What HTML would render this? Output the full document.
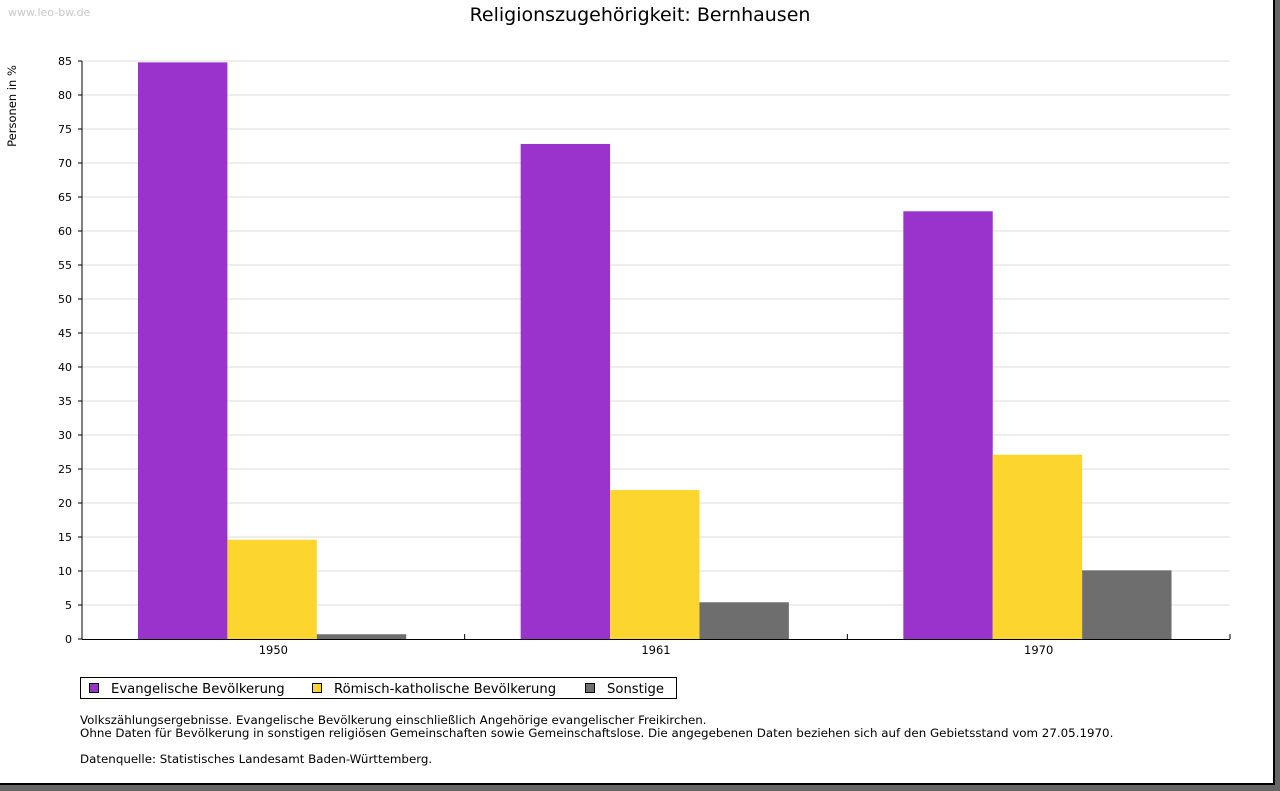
<!DOCTYPE html>
<html><head><meta charset="utf-8"><style>
body{margin:0;width:1280px;height:791px;background:#666;overflow:hidden;font-family:"DejaVu Sans","Liberation Sans",sans-serif}
#frame{position:absolute;left:0;top:0;width:1273px;height:783px;background:#fff;border-right:2px solid #000;border-bottom:2px solid #000}
svg text{font-family:"DejaVu Sans","Liberation Sans",sans-serif}
</style></head><body>
<div id="frame">
<svg id="chart" width="1275" height="785" style="position:absolute;left:0;top:0"></svg>
</div>
<script>
const categories=["1950","1961","1970"];
const seriesNames=["Evangelische Bevölkerung","Römisch-katholische Bevölkerung","Sonstige"];
const evangelisch=[84.8,72.8,62.9];
const katholisch=[14.6,21.9,27.1];
const sonstige=[0.7,5.4,10.1];
const yTicks=[0,5,10,15,20,25,30,35,40,45,50,55,60,65,70,75,80,85];
const colors=["#9933cc","#fcd62f","#6e6e6e"];
const series=[evangelisch,katholisch,sonstige];
const NS="http://www.w3.org/2000/svg";
const svg=document.getElementById('chart');
function mk(t,a,txt){const e=document.createElementNS(NS,t);for(const k in a)e.setAttribute(k,a[k]);if(txt!=null)e.textContent=txt;svg.appendChild(e);return e;}
const x0=82,x1=1230,y0=639,yTop=61,yMax=85;
const y=v=>y0-(v/yMax)*(y0-yTop);
const gw=(x1-x0)/categories.length,pad=56,bw=89.4;
let e;
e=mk('text',{x:8,y:16,'font-size':11,fill:'#c8c8c8'},'www.leo-bw.de');

e=mk('text',{x:640,y:21,'font-size':19,'text-anchor':'middle',fill:'#000'},'Religionszugehörigkeit: Bernhausen');

e=mk('text',{x:0,y:0,'font-size':11.5,'text-anchor':'middle',transform:'translate(16,106) rotate(-90)'},'Personen in %');

yTicks.forEach(t=>{
 if(t>0){e=mk('line',{x1:x0,x2:x1,y1:y(t),y2:y(t),stroke:'#dcdcdc','stroke-width':1});
 }
 e=mk('line',{x1:x0-4,x2:x0,y1:y(t),y2:y(t),stroke:'#000'});
 
 e=mk('text',{x:x0-10,y:y(t)+4,'font-size':11,'text-anchor':'end'},t);
 
});
categories.forEach((c,i)=>{
 const gx=x0+i*gw;
 series.forEach((s,j)=>{
  e=mk('rect',{x:gx+pad+j*bw,y:y(s[i]),width:bw,height:y0-y(s[i]),fill:colors[j]});
  
 });
 e=mk('text',{x:gx+gw/2,y:y0+15,'font-size':11.5,'text-anchor':'middle'},c);
 
 e=mk('line',{x1:gx+gw,x2:gx+gw,y1:y0,y2:y0-5,stroke:'#000'});
 
});
e=mk('line',{x1:x0,x2:x0,y1:yTop,y2:y0,stroke:'#000'});

e=mk('line',{x1:x0,x2:x1,y1:y0+0.5,y2:y0+0.5,stroke:'#000'});

e=mk('rect',{x:80.5,y:677.5,width:596,height:21,fill:'#fff',stroke:'#000'});

const lx=[89,312,585];
seriesNames.forEach((n,j)=>{
 e=mk('rect',{x:lx[j]+0.5,y:683.5,width:9,height:9,fill:colors[j],stroke:'#000'});
 
 e=mk('text',{x:lx[j]+22,y:693,'font-size':13.2},n);
 
});
const notes=[[80,724,'Volkszählungsergebnisse. Evangelische Bevölkerung einschließlich Angehörige evangelischer Freikirchen.'],
[80,737,'Ohne Daten für Bevölkerung in sonstigen religiösen Gemeinschaften sowie Gemeinschaftslose. Die angegebenen Daten beziehen sich auf den Gebietsstand vom 27.05.1970.'],
[80,763,'Datenquelle: Statistisches Landesamt Baden-Württemberg.']];
notes.forEach(([nx,ny,t])=>{e=mk('text',{x:nx,y:ny,'font-size':11.85},t);
 });
</script>
</body></html>
